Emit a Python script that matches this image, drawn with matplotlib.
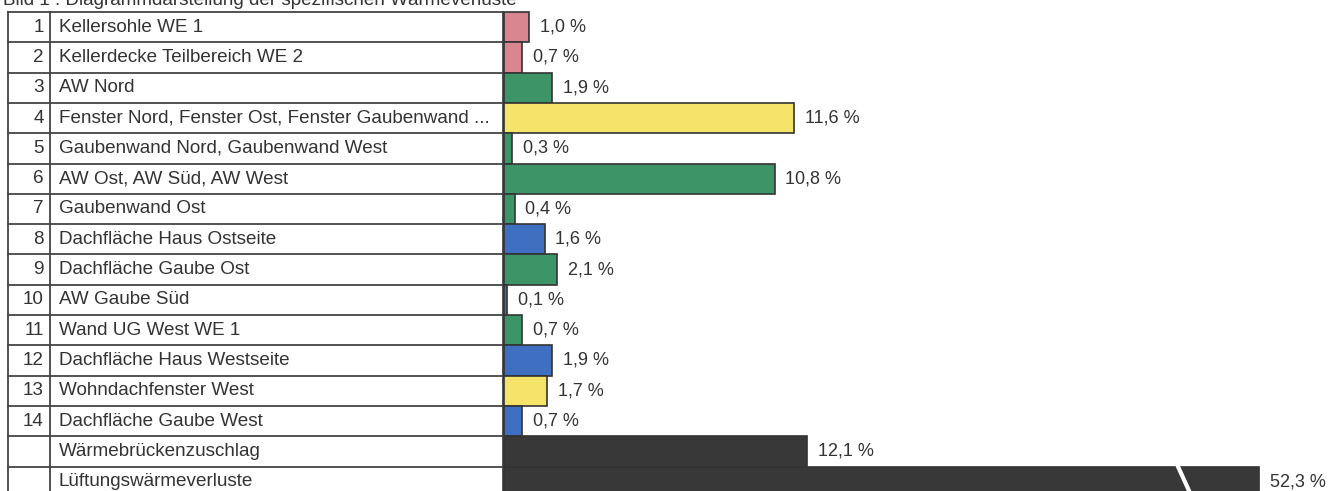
import numpy as np
import matplotlib.pyplot as plt

plt.rcParams['font.family'] = ['Liberation Sans', 'DejaVu Sans']

nummern = ['1', '2', '3', '4', '5', '6', '7', '8', '9', '10', '11', '12', '13', '14', '', '']
bauteile = ['Kellersohle WE 1', 'Kellerdecke Teilbereich WE 2', 'AW Nord',
            'Fenster Nord, Fenster Ost, Fenster Gaubenwand ...',
            'Gaubenwand Nord, Gaubenwand West', 'AW Ost, AW Süd, AW West',
            'Gaubenwand Ost', 'Dachfläche Haus Ostseite', 'Dachfläche Gaube Ost',
            'AW Gaube Süd', 'Wand UG West WE 1', 'Dachfläche Haus Westseite',
            'Wohndachfenster West', 'Dachfläche Gaube West',
            'Wärmebrückenzuschlag', 'Lüftungswärmeverluste']
anteile = [1.0, 0.7, 1.9, 11.6, 0.3, 10.8, 0.4, 1.6, 2.1, 0.1, 0.7, 1.9, 1.7, 0.7, 12.1, 52.3]
typ = ['keller', 'keller', 'wand', 'fenster', 'wand', 'wand', 'wand', 'dach', 'wand',
       'dach', 'wand', 'dach', 'fenster', 'dach', 'rest', 'rest']

farben = {'keller': '#d98690', 'wand': '#3d9466', 'fenster': '#f5e36a',
          'dach': '#3f6fc0', 'rest': '#383838'}

# pixel layout (100 dpi): 25 px per percent, bars start at x=505, rows 30.3 px from y=12
W, H = 1342, 491
pxpp = 25.0
x0 = 504
rowh = 30.3
ytop = 12
kappe = 30.2  # longest bar is drawn broken

fig = plt.figure(figsize=(W / 100, H / 100), dpi=100)
ax = fig.add_axes([0, 0, 1, 1])
ax.set_xlim(-x0 / pxpp, (W - x0) / pxpp)
ax.set_ylim((H - ytop) / rowh - 0.5, -ytop / rowh - 0.5)
ax.axis('off')

n = len(anteile)
y = np.arange(n)
laenge = np.minimum(anteile, kappe)
ax.barh(y, laenge, height=1.0, left=0.02, color=[farben[t] for t in typ],
        edgecolor='#333333', linewidth=1.2, zorder=2)

for i in range(n):
    ax.text(laenge[i] + 0.45, y[i], ('%.1f %%' % anteile[i]).replace('.', ','),
            va='center', ha='left', fontsize=13, color='#333333')

# axis break on the long bar
xb = (1183 - x0) / pxpp
ax.plot([xb - 0.2, xb + 0.35], [n - 1.5, n - 0.5], color='white', lw=3, zorder=3)

# table on the left
xl, xm, xr = (8 - x0) / pxpp, (50 - x0) / pxpp, (503 - x0) / pxpp
lc = '#444444'
for k in range(n + 1):
    ax.plot([xl, xr], [k - 0.5, k - 0.5], color=lc, lw=1.3, zorder=1)
for xv in [xl, xm, xr]:
    ax.plot([xv, xv], [-0.5, n - 0.5], color=lc, lw=1.3, zorder=1)
for i in range(n):
    ax.text(xm - 0.25, y[i], nummern[i], ha='right', va='center', fontsize=13.6, color='#333333')
    ax.text(xm + 0.35, y[i], bauteile[i], ha='left', va='center', fontsize=13.6, color='#333333')

ax.text(xl - 0.2, -0.88, 'Bild 1 : Diagrammdarstellung der spezifischen Wärmeverluste',
        ha='left', va='center', fontsize=13.6, color='#333333')

fig.savefig('out.png', dpi=100)
